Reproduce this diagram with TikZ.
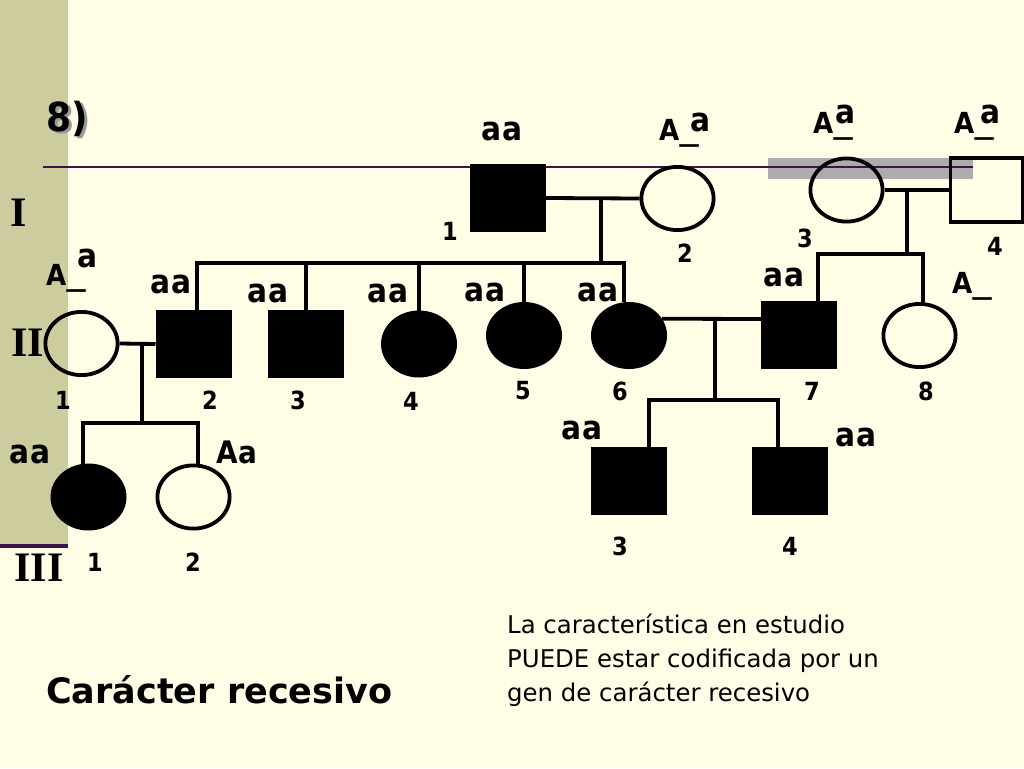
\documentclass[tikz,border=0pt]{standalone}
\usepackage{fontspec}
\usepackage{graphicx}
\setmainfont{DejaVu Sans}[FakeStretch=0.9]
\newfontfamily\serifb{Liberation Serif}
\newfontfamily\bodyf{DejaVu Sans}
\newfontfamily\titlef{DejaVu Sans}
\usetikzlibrary{shapes.geometric,calc}
\definecolor{bg}{RGB}{255,253,229}
\definecolor{band}{RGB}{204,204,158}
\definecolor{rulec}{RGB}{60,20,70}
\definecolor{hl}{RGB}{172,172,172}
\tikzset{
 conn/.style={line width=3.8pt},
 sq/.style={rectangle, draw, line width=3.8pt, minimum width=72.2pt, minimum height=64.2pt, inner sep=0pt},
 aff/.style={fill=black},
 circ/.style={ellipse, draw, line width=3.8pt, minimum width=72.2pt, minimum height=63.2pt, inner sep=0pt},
 geno/.style={font=\bfseries\fontsize{33}{33}\selectfont, inner sep=0pt},
 genA/.style={font=\bfseries\fontsize{29}{29}\selectfont, inner sep=0pt, anchor=base west},
 num/.style={font=\bfseries\fontsize{25}{25}\selectfont, inner sep=0pt},
 genr/.style={font=\serifb\bfseries\fontsize{42}{42}\selectfont, inner sep=0pt},
}
\begin{document}
\begin{tikzpicture}[x=1pt,y=-1pt]
\useasboundingbox (0,0) rectangle (1024,768);
% background
\fill[bg] (0,0) rectangle (1024,768);
\fill[band] (0,0) rectangle (68,545);
\draw[rulec, line width=3.5pt] (0,546) -- (68,546);
\fill[hl] (768,158) rectangle (973,179);
\draw[rulec, line width=2pt] (43,167) -- (973,167);

% title number
\node[anchor=base west, text=black!40, font=\bfseries\fontsize{40}{40}\selectfont, inner sep=0pt] (eightsh) at (49.5,133.5) {8)};
\node[anchor=base west, font=\bfseries\fontsize{40}{40}\selectfont, inner sep=0pt] (eight) at (46,131) {8)};

% generation numerals
\node[genr] (gI) at (19,213) {I};
\node[genr] (gII) at (28,343) {II};
\node[genr] (gIII) at (39,568) {III};

% generation I
\node[sq,aff] (I1) at (508,198) {};
\node[circ] (I2) at (677.5,198.5) {};
\node[circ] (I3) at (846.5,190) {};
\node[sq] (I4) at (986.5,190) {};

% generation II
\node[circ] (II1) at (81.5,343.5) {};
\node[sq,aff] (II2) at (193.5,344) {};
\node[sq,aff] (II3) at (306,344) {};
\node[circ,aff] (II4) at (419,344) {};
\node[circ,aff] (II5) at (524,335.5) {};
\node[circ,aff] (II6) at (629,335.5) {};
\node[sq,aff] (II7) at (799,335) {};
\node[circ] (II8) at (919.5,335.5) {};

% generation III
\node[circ,aff] (III1) at (88.5,497) {};
\node[circ] (III2) at (193.5,497) {};
\node[sq,aff] (III3) at (629,480.5) {};
\node[sq,aff] (III4) at (790,480.5) {};

% connectors I1 x I2
\draw[conn] (I1.east) -- (I2.west);
\coordinate (m1) at (601,198);
\coordinate (s1) at (601,263);
\draw[conn] (m1) -- (s1);
\coordinate (d2) at ($(II2.north)+(3.5,0)$);
\coordinate (d6) at ($(II6.north)+(-5,0)$);
\draw[conn] (d2) |- (d6 |- s1) -- (d6);
\foreach \n in {II3,II4,II5} \draw[conn] (\n.north) -- (\n.north |- s1);

% connectors I3 x I4
\draw[conn] (I3.east) -- (I4.west);
\coordinate (m2) at (907,189);
\coordinate (s2) at (907,254);
\draw[conn] (m2) -- (s2);
\coordinate (d7) at ($(II7.north)+(19,0)$);
\coordinate (d8) at ($(II8.north)+(3.5,0)$);
\draw[conn] (d7) |- (d8 |- s2) -- (d8);

% connectors II1 x II2
\draw[conn] (II1.east) -- (II2.west);
\coordinate (m3) at (142,344);
\coordinate (s3) at (142,423);
\draw[conn] (m3) -- (s3);
\coordinate (e1) at ($(III1.north)+(-5.5,0)$);
\coordinate (e2) at ($(III2.north)+(4.5,0)$);
\draw[conn] (e1) |- (e2 |- s3) -- (e2);

% connectors II6 x II7
\coordinate (m4) at (715,319);
\coordinate (s4) at (715,400);
\draw[conn] (II6.27) -- (II7.west |- m4);
\draw[conn] (m4) -- (s4);
\coordinate (e3) at ($(III3.north)+(20,0)$);
\coordinate (e4) at ($(III4.north)+(-12,0)$);
\draw[conn] (e3) |- (e4 |- s4) -- (e4);

% genotypes
\node[geno] (gI1) at (502,131) {aa};
\node[genA] (gI2A) at (659,140) {A\scalebox{1.5}[1]{\_}};
\node[geno] (gI2a) at (701,122) {a};
\node[genA] (gI3A) at (813,133) {A\scalebox{1.5}[1]{\_}};
\node[geno] (gI3a) at (846,114) {a};
\node[genA] (gI4A) at (954,133) {A\scalebox{1.5}[1]{\_}};
\node[geno] (gI4a) at (991,114) {a};
\node[genA] (gII1A) at (46,285) {A\scalebox{1.5}[1]{\_}};
\node[geno] (gII1a) at (88,258) {a};
\node[geno] (gII2) at (171,284) {aa};
\node[geno] (gII3) at (268,293) {aa};
\node[geno] (gII4) at (388,293) {aa};
\node[geno] (gII5) at (485,292) {aa};
\node[geno] (gII6) at (598,292) {aa};
\node[geno] (gII7) at (784,277) {aa};
\node[genA] (gII8A) at (952,293) {A\scalebox{1.5}[1]{\_}};
\node[geno] (gIII1) at (30,454) {aa};
\node[geno, font=\bfseries\fontsize{31}{31}\selectfont] (gIII2) at (237,452) {Aa};
\node[geno] (gIII3) at (582,430) {aa};
\node[geno] (gIII4) at (856,437) {aa};

% numbers
\node[num] (nI1) at (450,231) {1};
\node[num] (nI2) at (685,253) {2};
\node[num] (nI3) at (805,238) {3};
\node[num] (nI4) at (995,246) {4};
\node[num] (nII1) at (63,400) {1};
\node[num] (nII2) at (210,400) {2};
\node[num] (nII3) at (298,400) {3};
\node[num] (nII4) at (411,401) {4};
\node[num] (nII5) at (523,391) {5};
\node[num] (nII6) at (620,391) {6};
\node[num] (nII7) at (812,391) {7};
\node[num] (nII8) at (926,391) {8};
\node[num] (nIII1) at (95,562) {1};
\node[num] (nIII2) at (193,562) {2};
\node[num] (nIII3) at (620,546) {3};
\node[num] (nIII4) at (790,546) {4};

% texts
\node[anchor=base west, font=\titlef\bfseries\fontsize{35}{35}\selectfont, inner sep=0pt] (title) at (46,703) {Carácter recesivo};
\node[anchor=north west, align=left, font=\bodyf\fontsize{24.4}{34}\selectfont, inner sep=0pt] (note) at (507,614) {La característica en estudio\\PUEDE estar codificada por un\\gen de carácter recesivo};
\end{tikzpicture}
\end{document}
